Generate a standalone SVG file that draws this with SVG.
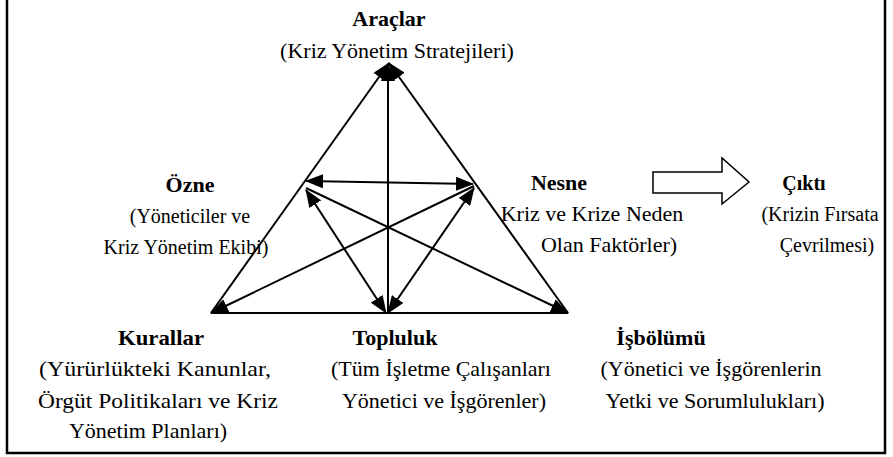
<svg xmlns="http://www.w3.org/2000/svg" width="893" height="457" viewBox="0 0 893 457">
<style>
text{font-size:22px;fill:#000;text-anchor:middle}
.b{font-weight:bold}
.s{font-size:20px}
.ln{stroke:#000;stroke-width:2;fill:none}
.frame{stroke:#000;stroke-width:2.5;fill:none}
</style>
<defs>
<marker id="ah" markerUnits="userSpaceOnUse" markerWidth="18" markerHeight="14" refX="17" refY="7" orient="auto-start-reverse">
<path d="M0,0 L18,7 L0,14 z" fill="#000"/>
</marker>
</defs>
<path class="frame" d="M7,0 V453 H885 V0"/>
<g id="connectors">
<line class="ln" x1="211" y1="313" x2="568" y2="313"/>
<line class="ln" x1="211" y1="313" x2="389" y2="63" marker-end="url(#ah)"/>
<line class="ln" x1="568" y1="313" x2="389" y2="63" marker-end="url(#ah)"/>
<line class="ln" x1="388" y1="313" x2="388" y2="64" marker-end="url(#ah)"/>
<line class="ln" x1="306" y1="181" x2="473" y2="184" marker-start="url(#ah)" marker-end="url(#ah)"/>
<line class="ln" x1="306" y1="190" x2="386" y2="313" marker-start="url(#ah)" marker-end="url(#ah)"/>
<line class="ln" x1="474" y1="188" x2="388" y2="313" marker-start="url(#ah)" marker-end="url(#ah)"/>
<line class="ln" x1="306" y1="188" x2="568" y2="313" marker-end="url(#ah)"/>
<line class="ln" x1="474" y1="186" x2="211" y2="313" marker-end="url(#ah)"/>
<polygon points="653,172 722,172 722,158 749,182 722,204 722,193 653,193" fill="#fff" stroke="#000" stroke-width="1.5"/>
</g>
<g font-family="'Liberation Serif', 'DejaVu Serif', 'Times New Roman', serif">
<g id="araclar">
<text class="b" x="389" y="26">Araçlar</text>
<text x="397" y="58">(Kriz Yönetim Stratejileri)</text>
</g>
<g id="ozne">
<text class="b" x="190" y="192">Özne</text>
<text class="s" x="190" y="223">(Yöneticiler ve</text>
<text class="s" x="186" y="254">Kriz Yönetim Ekibi)</text>
</g>
<g id="nesne">
<text class="b" x="559" y="190">Nesne</text>
<text x="592" y="221">Kriz ve Krize Neden</text>
<text x="609" y="252">Olan Faktörler)</text>
</g>
<g id="cikti">
<text class="b s" x="804" y="190">Çıktı</text>
<text class="s" x="820" y="221">(Krizin Fırsata</text>
<text class="s" x="827" y="252">Çevrilmesi)</text>
</g>
<g id="kurallar">
<text class="b" x="161" y="345" textLength="86" lengthAdjust="spacingAndGlyphs">Kurallar</text>
<text x="155" y="376" textLength="232" lengthAdjust="spacingAndGlyphs">(Yürürlükteki Kanunlar,</text>
<text x="158" y="408" textLength="240" lengthAdjust="spacingAndGlyphs">Örgüt Politikaları ve Kriz</text>
<text x="148" y="438">Yönetim Planları)</text>
</g>
<g id="topluluk">
<text class="b" x="395" y="345" textLength="85" lengthAdjust="spacingAndGlyphs">Topluluk</text>
<text x="441" y="376">(Tüm İşletme Çalışanları</text>
<text x="444" y="408">Yönetici ve İşgörenler)</text>
</g>
<g id="isbolumu">
<text class="b" x="661" y="345">İşbölümü</text>
<text x="711" y="376">(Yönetici ve İşgörenlerin</text>
<text x="715" y="408">Yetki ve Sorumlulukları)</text>
</g>
</g>
</svg>
